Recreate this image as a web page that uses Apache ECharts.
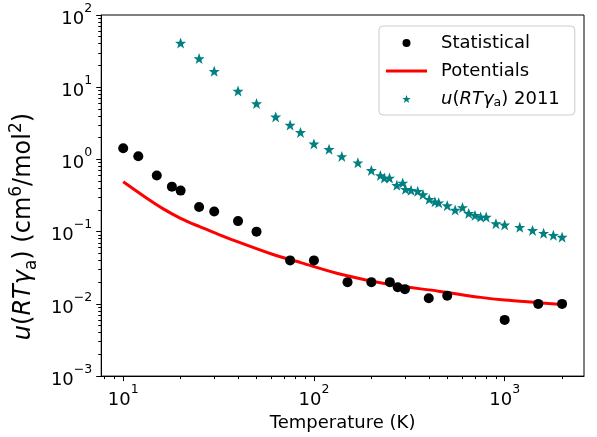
<!DOCTYPE html>
<html>
<head>
<meta charset="utf-8">
<script src="https://cdn.jsdelivr.net/npm/echarts@6/dist/echarts.min.js"></script>
<style>
  html, body { margin: 0; padding: 0; background: #fff; }
  #chart { width: 597px; height: 437px; }
</style>
</head>
<body>
<div id="chart"></div>
<script>
// statistical points
var statT = [10, 12, 15, 18, 20, 25, 30, 40, 50, 75, 100, 150, 200, 250, 275, 300, 400, 500, 1000, 1500, 2000];
var statU = [1.43, 1.11, 0.60, 0.42, 0.37, 0.22, 0.19, 0.14, 0.10, 0.040, 0.040, 0.020, 0.020, 0.020, 0.017, 0.016, 0.012, 0.013, 0.006, 0.010, 0.010];

// potentials curve
var potT = [10, 13.3, 16.3, 20, 25, 30, 40, 60, 86, 140, 250, 450, 750, 1000, 1500, 2000];
var potU = [0.49, 0.29, 0.205, 0.153, 0.118, 0.097, 0.072, 0.049, 0.037, 0.0255, 0.0185, 0.015, 0.0123, 0.0113, 0.0104, 0.0098];

// u(RT gamma_a) 2011
var starT = [20, 25, 30, 40, 50, 63, 75, 85, 100, 120, 140, 170, 200, 223, 234, 249, 272, 292, 302, 323, 350, 373, 402, 431, 451, 500, 550, 601, 648, 699, 748, 800, 900, 1000, 1200, 1400, 1600, 1800, 2000];
var starU = [40.8, 24.9, 16.6, 8.83, 5.93, 3.88, 2.99, 2.37, 1.64, 1.38, 1.10, 0.90, 0.705, 0.60, 0.553, 0.553, 0.438, 0.472, 0.386, 0.374, 0.362, 0.326, 0.281, 0.259, 0.251, 0.229, 0.199, 0.216, 0.179, 0.168, 0.159, 0.159, 0.129, 0.124, 0.115, 0.104, 0.095, 0.089, 0.084];

// ticks
var xMajor = [10, 100, 1000];
var xMinor = [8, 9, 20, 30, 40, 50, 60, 70, 80, 90, 200, 300, 400, 500, 600, 700, 800, 900, 2000];
var yMajor = [0.001, 0.01, 0.1, 1, 10, 100];
var yMinor = [];
[0.001, 0.01, 0.1, 1, 10].forEach(function (d) {
  for (var k = 2; k <= 9; k++) yMinor.push(+(d * k).toPrecision(3));
});

var FONT = "DejaVu Sans";
var STAR = "path://M12 1L15 9H23L16.5 14L19 22L12 17L5 22L7.5 14L1 9H9Z";

function zip(a, b) {
  return a.map(function (v, i) { return [v, b[i]]; });
}

function powLabel(v) {
  var e = Math.round(Math.log10(v));
  return "{b|10}{s|" + String(e).replace("-", "\u2212") + "}";
}

var tickRich = {
  b: { fontSize: 18, fontFamily: FONT, color: "#000", lineHeight: 26, verticalAlign: "bottom" },
  s: { fontSize: 12.5, fontFamily: FONT, color: "#000", lineHeight: 14, verticalAlign: "top" }
};

var mathRich = {
  n: { fontSize: 24, fontFamily: FONT, color: "#000", lineHeight: 32, verticalAlign: "middle" },
  i: { fontSize: 24, fontFamily: FONT, fontStyle: "italic", color: "#000", lineHeight: 32, verticalAlign: "middle" },
  sup: { fontSize: 17, fontFamily: FONT, color: "#000", lineHeight: 16, verticalAlign: "top" },
  sub: { fontSize: 17, fontFamily: FONT, color: "#000", lineHeight: 16, verticalAlign: "bottom" }
};

var starName = "u(RT\u03b3a) 2011";

var chart = echarts.init(document.getElementById("chart"));
chart.setOption({
  animation: false,
  backgroundColor: "#fff",
  grid: {
    left: 98, right: 13, top: 15, bottom: 58,
    show: true, borderColor: "#000", borderWidth: 1, backgroundColor: "transparent"
  },
  legend: {
    orient: "vertical",
    left: 379, top: 26,
    padding: [8, 15, 6, 7],
    itemGap: 10,
    itemWidth: 41,
    itemHeight: 8,
    borderColor: "#cccccc",
    borderWidth: 1,
    borderRadius: 4,
    backgroundColor: "rgba(255,255,255,0.8)",
    data: [
      { name: "Statistical", icon: "circle" },
      { name: "Potentials", icon: "path://M0 0H41V3H0Z" },
      { name: starName, icon: STAR }
    ],
    formatter: function (name) {
      if (name === starName) {
        return "{i|u}{n|(}{i|RT\u03b3}{sub|a}{n|) 2011}";
      }
      return "{n|" + name + "}";
    },
    textStyle: {
      padding: [0, 0, 0, 9],
      rich: {
        n: { fontSize: 18, fontFamily: FONT, color: "#000", lineHeight: 20 },
        i: { fontSize: 18, fontFamily: FONT, fontStyle: "italic", color: "#000", lineHeight: 20 },
        sub: { fontSize: 12.5, fontFamily: FONT, color: "#000", lineHeight: 12, verticalAlign: "bottom" }
      }
    }
  },
  xAxis: [
    {
      type: "log", logBase: 10, min: 7.67, max: 2606,
      name: "Temperature (K)", nameLocation: "middle", nameGap: 34,
      nameTextStyle: { fontSize: 18, fontFamily: FONT, color: "#000" },
      axisLine: { lineStyle: { color: "#000", width: 1 } },
      axisTick: { customValues: xMajor, length: 5, lineStyle: { color: "#000" } },
      axisLabel: { customValues: xMajor, margin: 7, formatter: powLabel, rich: tickRich },
      splitLine: { show: false }
    },
    {
      type: "log", logBase: 10, min: 7.67, max: 2606, gridIndex: 0,
      position: "bottom",
      axisLine: { show: false },
      axisTick: { customValues: xMinor, length: 3, lineStyle: { color: "#000" } },
      axisLabel: { show: false },
      splitLine: { show: false }
    }
  ],
  yAxis: [
    {
      type: "log", logBase: 10, min: 0.001, max: 100,
      name: "{i|u}{n|(}{i|RT\u03b3}{sub|a}{n|) (cm}{sup|6}{n|/mol}{sup|2}{n|)}",
      nameLocation: "middle", nameGap: 52, nameRotate: 90,
      nameTextStyle: { rich: mathRich, padding: [0, 62, 0, 0] },
      axisLine: { lineStyle: { color: "#000", width: 1 } },
      axisTick: { customValues: yMajor, length: 5, lineStyle: { color: "#000" } },
      axisLabel: { customValues: yMajor, margin: 9, formatter: powLabel, rich: tickRich },
      splitLine: { show: false }
    },
    {
      type: "log", logBase: 10, min: 0.001, max: 100, gridIndex: 0,
      position: "left",
      axisLine: { show: false },
      axisTick: { customValues: yMinor, length: 3, lineStyle: { color: "#000" } },
      axisLabel: { show: false },
      splitLine: { show: false }
    }
  ],
  series: [
    {
      name: "Statistical",
      type: "scatter",
      symbol: "circle",
      symbolSize: 10,
      itemStyle: { color: "#000", opacity: 1 },
      data: zip(statT, statU),
      z: 4
    },
    {
      name: "Potentials",
      type: "line",
      smooth: 0.3,
      showSymbol: false,
      symbol: "none",
      lineStyle: { color: "#ff0000", width: 3 },
      itemStyle: { color: "#ff0000" },
      data: zip(potT, potU),
      z: 3
    },
    {
      name: starName,
      type: "scatter",
      symbol: STAR,
      symbolSize: 11,
      itemStyle: { color: "#008080", opacity: 1 },
      data: zip(starT, starU),
      z: 2
    }
  ]
});
</script>
</body>
</html>
